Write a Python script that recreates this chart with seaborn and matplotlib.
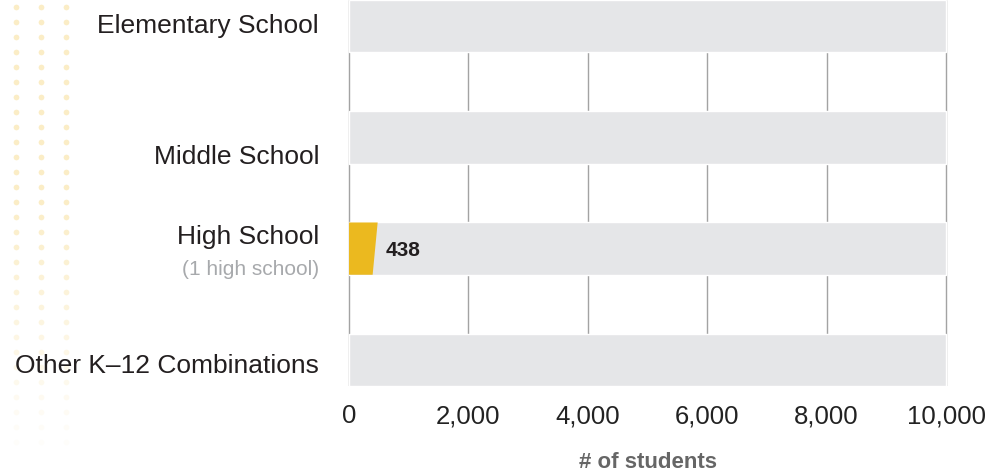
import numpy as np
import pandas as pd
import matplotlib
matplotlib.use("Agg")
import matplotlib.pyplot as plt
import matplotlib.transforms as mtransforms
from matplotlib.patches import Polygon
import seaborn as sns

levels = ['Elementary School', 'Middle School', 'High School', 'Other K–12 Combinations']
notes = ['', '', '(1 high school)', '']
students = [0, 0, 438, 0]
scale_max = 10000
x_ticks = [0, 2000, 4000, 6000, 8000, 10000]

df = pd.DataFrame({'level': levels, 'students': students,
                   'scale': [scale_max] * len(levels)})

sns.set_theme(style='white')
plt.rcParams['font.family'] = ['Liberation Sans', 'DejaVu Sans']

fig = plt.figure(figsize=(10.05, 4.73), dpi=100)

# faint dotted decoration on the left
bg = fig.add_axes([0, 0, 1, 1], zorder=0)
bg.set_xlim(0, 1005)
bg.set_ylim(473, 0)
bg.axis('off')
dot_cols = np.array([16, 41, 66])
for yy in np.arange(7, 450, 15):
    a = 1.0 if yy < 200 else max(0.0, 1 - (yy - 200) / 260)
    bg.scatter(dot_cols, [yy] * 3, s=17, color='#FBEDC6', alpha=a, linewidths=0)

# main axes
x0, x1 = -70, 10030
px_per_unit = 597 / 10000
left_px = 349 + x0 * px_per_unit
width_px = (x1 - x0) * px_per_unit
ax = fig.add_axes([left_px / 1005, 87 / 473, width_px / 1005, 386 / 473], zorder=1)
ax.patch.set_alpha(0)

sns.barplot(data=df, x='scale', y='level', color='#E5E6E8', saturation=1,
            width=0.47, ax=ax, zorder=2)
n_bg = len(ax.patches)
sns.barplot(data=df, x='students', y='level', color='#EBB91F', saturation=1,
            width=0.47, ax=ax, zorder=3)

# slanted right edge on the value bars
slant = 42
for p in list(ax.patches[n_bg:]):
    w = p.get_width()
    if w <= 0:
        p.remove()
        continue
    bx, by, bh = p.get_x(), p.get_y(), p.get_height()
    poly = Polygon([(bx, by), (bx + w + slant, by), (bx + w - slant, by + bh), (bx, by + bh)],
                   closed=True, facecolor=p.get_facecolor(), edgecolor='none', zorder=3)
    p.remove()
    ax.add_patch(poly)

ax.set_xlim(x0, x1)
ax.set_ylim(3.235, -0.235)
ax.set_xticks(x_ticks)
ax.set_xticklabels([f'{t:,}' for t in x_ticks])
ax.tick_params(axis='x', length=0, pad=13, labelsize=18.5, labelcolor='#222222')
ax.set_yticks([])
ax.xaxis.grid(True, color='#A3A3A3', lw=1.0)
ax.set_axisbelow(True)
for s in ax.spines.values():
    s.set_visible(False)
ax.set_xlabel('')
ax.set_ylabel('')

# category labels (baseline offsets in pixels below bar centre)
label_drop = [6.5, 26.5, -5, 13.5]
note_drop = [0, 0, 26, 0]
for i, (name, note) in enumerate(zip(levels, notes)):
    tr = mtransforms.offset_copy(ax.transData, fig=fig, x=-30, y=-label_drop[i], units='dots')
    ax.text(0, i, name, transform=tr, ha='right', va='baseline',
            fontsize=19, color='#231F20')
    if note:
        tr2 = mtransforms.offset_copy(ax.transData, fig=fig, x=-30, y=-note_drop[i], units='dots')
        ax.text(0, i, note, transform=tr2, ha='right', va='baseline',
                fontsize=15, color='#A7A9AC')

# value labels
for i, v in enumerate(students):
    if v > 0:
        tr = mtransforms.offset_copy(ax.transData, fig=fig, x=10, y=-7, units='dots')
        ax.text(v, i, f'{v:,}', transform=tr, ha='left', va='baseline',
                fontsize=15, fontweight='bold', color='#231F20')

fig.text(647.5 / 1005, (473 - 468) / 473, '# of students', ha='center', va='baseline',
         fontsize=16, fontweight='bold', color='#666666')

fig.savefig('out.png', dpi=100)
